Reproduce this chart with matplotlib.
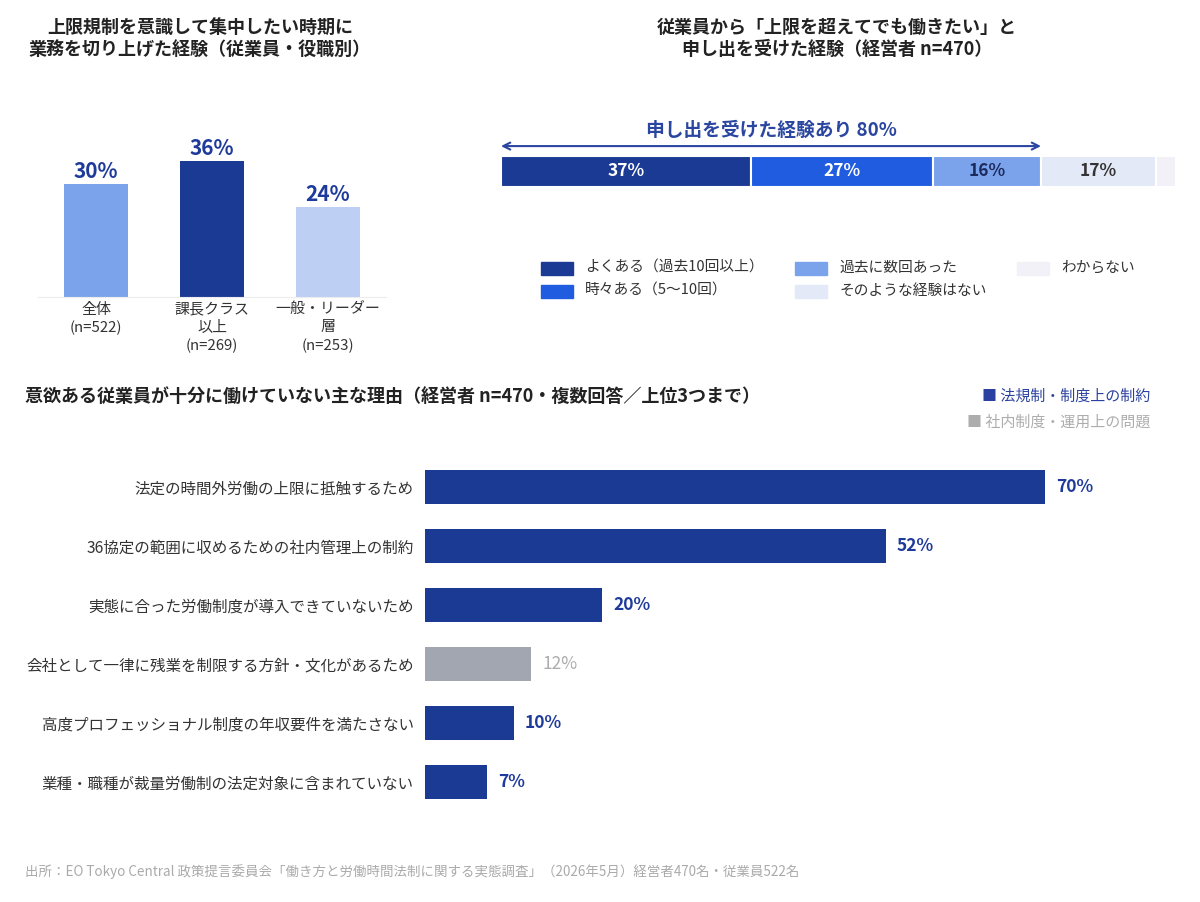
import matplotlib
matplotlib.use('Agg')
import matplotlib.pyplot as plt
from matplotlib.patches import Rectangle

plt.rcParams['font.family'] = ['Noto Sans CJK JP', 'DejaVu Sans']

W, H = 1200, 902
fig = plt.figure(figsize=(12, 9.02), dpi=100)
fig.patch.set_facecolor('white')


def axpx(l, t, r, b):
    return fig.add_axes([l / W, 1 - b / H, (r - l) / W, (b - t) / H])


def ftext(x, y, s, **kw):
    return fig.text(x / W, 1 - y / H, s, **kw)


# ---------------- data ----------------
role_labels = ['全体\n(n=522)', '課長クラス\n以上\n(n=269)', '一般・リーダー\n層\n(n=253)']
role_values = [30, 36, 24]
role_colors = ['#7ba3ec', '#1b3a94', '#bdd0f4']

exp_labels = ['よくある（過去10回以上）', '時々ある（5〜10回）', '過去に数回あった',
              'そのような経験はない', 'わからない']
exp_values = [37, 27, 16, 17, 3]
exp_colors = ['#1b3a94', '#1f5ce0', '#7ba3ec', '#e3e9f7', '#f2f1f8']
exp_text_colors = ['white', 'white', '#1c2b5e', '#333333', None]

reason_labels = ['法定の時間外労働の上限に抵触するため',
                 '36協定の範囲に収めるための社内管理上の制約',
                 '実態に合った労働制度が導入できていないため',
                 '会社として一律に残業を制限する方針・文化があるため',
                 '高度プロフェッショナル制度の年収要件を満たさない',
                 '業種・職種が裁量労働制の法定対象に含まれていない']
reason_values = [70, 52, 20, 12, 10, 7]
reason_groups = ['law', 'law', 'law', 'internal', 'law', 'law']
group_colors = {'law': '#1b3a94', 'internal': '#a2a6b0'}
group_text_colors = {'law': '#1e3a9a', 'internal': '#adadad'}
group_labels = {'law': '法規制・制度上の制約', 'internal': '社内制度・運用上の問題'}

NAVY_TXT = '#1e3a9a'
TITLE_C = '#222222'
TEXT_C = '#333333'

# ---------------- top-left: bar chart ----------------
ftext(200, 38, '上限規制を意識して集中したい時期に\n業務を切り上げた経験（従業員・役職別）',
      ha='center', va='center', fontsize=13, fontweight='bold', color=TITLE_C,
      linespacing=1.2)

ax1 = axpx(38, 100, 386, 297)
x1 = list(range(len(role_values)))
ax1.bar(x1, role_values, width=0.55, color=role_colors)
ax1.set_xlim(-0.5, 2.5)
ax1.set_ylim(0, 52.3)
for s in ['top', 'left', 'right']:
    ax1.spines[s].set_visible(False)
ax1.spines['bottom'].set_color('#ececec')
ax1.set_yticks([])
ax1.set_xticks(x1)
ax1.set_xticklabels(role_labels, fontsize=10.8, color=TEXT_C, linespacing=1.35)
ax1.tick_params(axis='x', length=0, pad=4)
for xi, v in zip(x1, role_values):
    ax1.annotate(f'{v}%', xy=(xi, v), xytext=(0, 2), textcoords='offset pixels',
                 ha='center', va='bottom', fontsize=15, fontweight='bold', color=NAVY_TXT)

# ---------------- top-right: stacked bar ----------------
ftext(837, 38, '従業員から「上限を超えてでも働きたい」と\n申し出を受けた経験（経営者 n=470）',
      ha='center', va='center', fontsize=13, fontweight='bold', color=TITLE_C,
      linespacing=1.2)

ax2 = axpx(501, 156, 1176, 187)
left = 0
for v, c, tc in zip(exp_values, exp_colors, exp_text_colors):
    ax2.barh(0, v, left=left, height=1.0, color=c, edgecolor='white', linewidth=1.5)
    if tc is not None:
        ax2.text(left + v / 2, 0, f'{v}%', ha='center', va='center', fontsize=12.5,
                 fontweight='bold', color=tc)
    left += v
ax2.set_xlim(0, sum(exp_values))
ax2.set_ylim(-0.5, 0.5)
ax2.axis('off')

experienced = sum(exp_values[:3])
ax2.annotate('', xy=(0, 0.82), xytext=(experienced, 0.82),
             arrowprops=dict(arrowstyle='<->,head_length=0.5,head_width=0.25',
                             color='#2a46a0', lw=1.5, shrinkA=0, shrinkB=0),
             annotation_clip=False)
ax2.text(experienced / 2, 1.31, f'申し出を受けた経験あり {experienced}%', ha='center',
         va='center', fontsize=13.5, fontweight='bold', color='#2a46a0', clip_on=False)

# legend for stacked bar
leg_pos = [(541, 268), (541, 291), (795, 268), (795, 291), (1017, 268)]
for (lx, ly), lab, col in zip(leg_pos, exp_labels, exp_colors):
    fig.patches.append(Rectangle((lx / W, 1 - (ly + 6.5) / H), 32 / W, 13 / H,
                                 transform=fig.transFigure, color=col))
    ftext(lx + 44, ly, lab, ha='left', va='center', fontsize=10.6, color=TEXT_C)

# ---------------- bottom: horizontal bars ----------------
ftext(25, 396, '意欲ある従業員が十分に働けていない主な理由（経営者 n=470・複数回答／上位3つまで）',
      ha='left', va='center', fontsize=13, fontweight='bold', color=TITLE_C)

ftext(1150, 397, '■ ' + group_labels['law'], ha='right', va='center', fontsize=10.8,
      color='#2b41a0')
ftext(1150, 422, '■ ' + group_labels['internal'], ha='right', va='center', fontsize=10.8,
      color='#adadad')

ax3 = axpx(425, 457.5, 1150, 811.5)
y3 = list(range(len(reason_values)))
ax3.barh(y3, reason_values, height=0.59,
         color=[group_colors[g] for g in reason_groups])
ax3.set_xlim(0, 81.86)
ax3.set_ylim(5.5, -0.5)
for s in ['top', 'bottom', 'left', 'right']:
    ax3.spines[s].set_visible(False)
ax3.set_xticks([])
ax3.set_yticks(y3)
ax3.set_yticklabels(reason_labels, fontsize=11.2, color=TEXT_C)
ax3.tick_params(axis='y', length=0, pad=8)
for yi, v, g in zip(y3, reason_values, reason_groups):
    ax3.annotate(f'{v}%', xy=(v, yi), xytext=(11, 0), textcoords='offset pixels',
                 ha='left', va='center', fontsize=12.5,
                 fontweight='bold' if g == 'law' else 'normal',
                 color=group_text_colors[g])

# footnote
ftext(25, 872, '出所：EO Tokyo Central 政策提言委員会「働き方と労働時間法制に関する実態調査」（2026年5月）経営者470名・従業員522名',
      ha='left', va='center', fontsize=9.7, color='#aaaaaa')

fig.savefig('out.png', dpi=100, facecolor='white')
